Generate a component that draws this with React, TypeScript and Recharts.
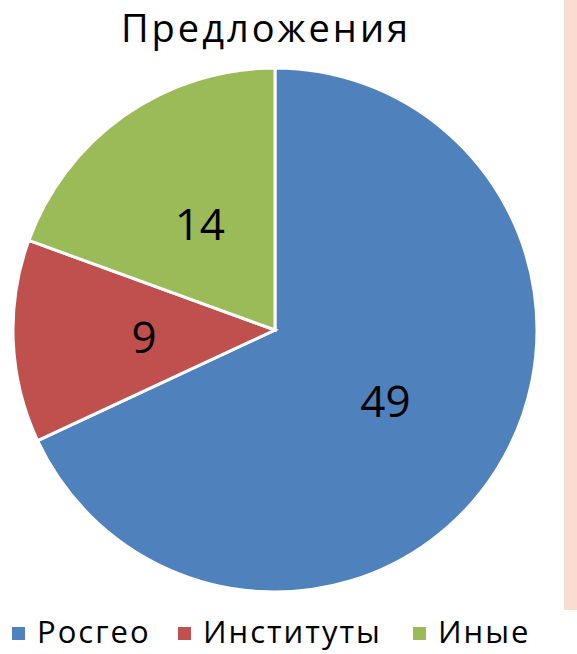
import React from 'react';
import { PieChart, Pie, Cell } from 'recharts';

const categories = ['Росгео', 'Институты', 'Иные'];
const values = [49, 9, 14];
const COLORS = ['#4F81BD', '#C0504D', '#9BBB59'];
const legendLeft = [12, 178, 413];

const data = categories.map((name, i) => ({ name, value: values[i] }));

const FONT = '"Open Sans", "Noto Sans", sans-serif';
const RADIAN = Math.PI / 180;

const renderLabel = (props: any) => {
    const { cx, cy, midAngle, outerRadius, value } = props;
    const r = outerRadius * 0.5;
    const x = cx + r * Math.cos(-midAngle * RADIAN);
    const y = cy + r * Math.sin(-midAngle * RADIAN);
    return (
        <text
            x={x}
            y={y}
            fill="#000"
            textAnchor="middle"
            dominantBaseline="central"
            fontSize={44}
            fontFamily={FONT}
        >
            {value}
        </text>
    );
};

export default function App() {
    return (
        <div style={{ position: 'absolute', left: 0, top: 0, width: 577, height: 654, background: '#fff', overflow: 'hidden' }}>
            <div style={{ position: 'absolute', left: 564, top: 0, width: 13, height: 610, background: '#FBDCD1' }} />
            <div
                style={{
                    position: 'absolute',
                    left: 0,
                    top: 1,
                    width: 532,
                    textAlign: 'center',
                    fontFamily: FONT,
                    fontSize: 38,
                    letterSpacing: 3,
                    color: '#000',
                }}
            >
                Предложения
            </div>
            <PieChart width={577} height={600} margin={{ top: 0, right: 0, bottom: 0, left: 0 }}>
                <Pie
                    data={data}
                    dataKey="value"
                    nameKey="name"
                    cx={275}
                    cy={330}
                    outerRadius={262}
                    startAngle={90}
                    endAngle={-270}
                    stroke="#fff"
                    strokeWidth={3}
                    label={renderLabel}
                    labelLine={false}
                    isAnimationActive={false}
                >
                    {data.map((d, i) => (
                        <Cell key={d.name} fill={COLORS[i]} />
                    ))}
                </Pie>
            </PieChart>
            {categories.map((name, i) => (
                <div
                    key={name}
                    style={{
                        position: 'absolute',
                        left: legendLeft[i],
                        top: 616,
                        height: 31,
                        lineHeight: 1,
                        display: 'flex',
                        alignItems: 'center',
                        fontFamily: FONT,
                        fontSize: 31,
                        letterSpacing: 2,
                        color: '#000',
                        whiteSpace: 'nowrap',
                    }}
                >
                    <span style={{ width: 13, height: 13, background: COLORS[i], marginRight: 12, marginTop: 4, display: 'inline-block' }} />
                    <span>{name}</span>
                </div>
            ))}
        </div>
    );
}
